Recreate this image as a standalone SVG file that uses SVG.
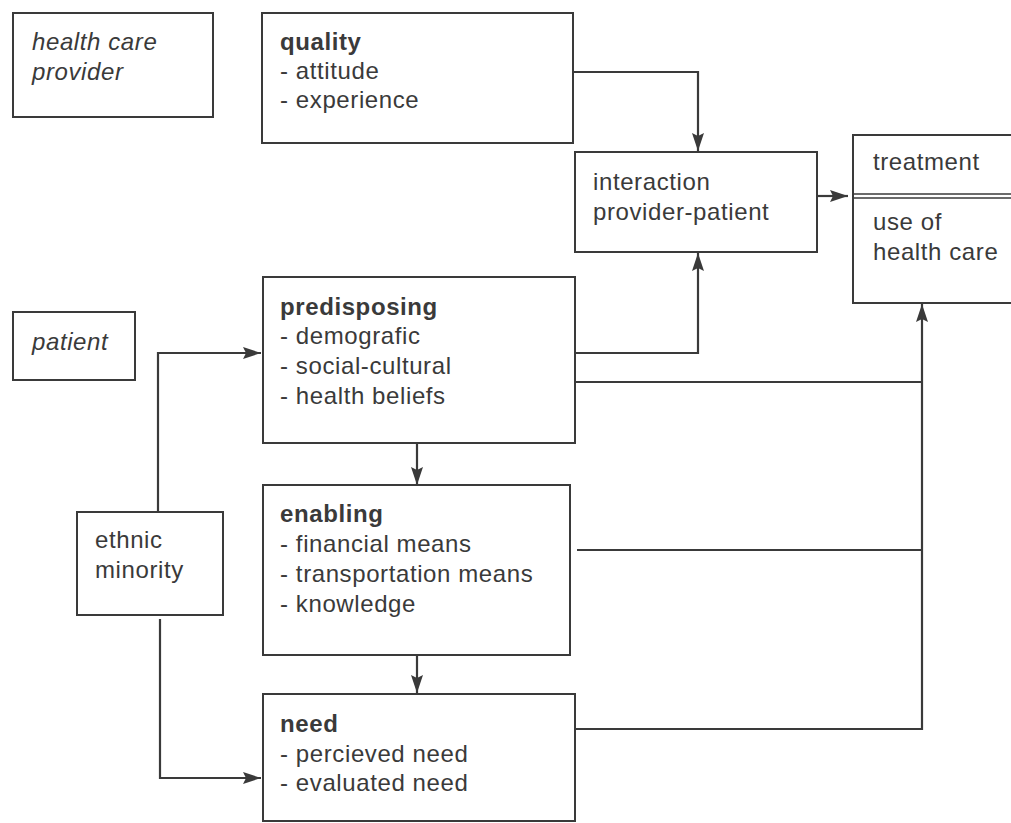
<svg xmlns="http://www.w3.org/2000/svg" width="1011" height="823" viewBox="0 0 1011 823">
<style>
.box{fill:#fff;stroke:#3a3a3a;stroke-width:2}
.t{font-family:"Liberation Sans",Arial,sans-serif;font-size:24px;letter-spacing:0.6px;fill:#3a3a3a}
.b{font-weight:bold}
.i{font-style:italic}
.c{fill:none;stroke:#3a3a3a;stroke-width:2.2}
</style>
<defs>
<marker id="ah" markerUnits="userSpaceOnUse" markerWidth="20" markerHeight="14" refX="18" refY="7" orient="auto">
<path d="M0,1 L18,7 L0,13 L3,7 z" fill="#3a3a3a"/>
</marker>
</defs>
<rect width="1011" height="823" fill="#fff"/>

<g id="connectors">
<path class="c" d="M574,72 H698 V151" marker-end="url(#ah)"/>
<path class="c" d="M817,196 H848" marker-end="url(#ah)"/>
<path class="c" d="M575,353 H698 V253" marker-end="url(#ah)"/>
<path class="c" d="M575,382 H922"/>
<path class="c" d="M577,550 H922"/>
<path class="c" d="M575,729 H922 V304" marker-end="url(#ah)"/>
<path class="c" d="M417,443 V485" marker-end="url(#ah)"/>
<path class="c" d="M417,655 V693" marker-end="url(#ah)"/>
<path class="c" d="M158,512 V353 H261" marker-end="url(#ah)"/>
<path class="c" d="M160,619 V778 H261" marker-end="url(#ah)"/>
</g>

<g id="health-care-provider">
<rect class="box" x="13" y="13" width="200" height="104"/>
<text class="t i" x="32" y="50">health care</text>
<text class="t i" x="32" y="80">provider</text>
</g>

<g id="quality">
<rect class="box" x="262" y="13" width="311" height="130"/>
<text class="t b" x="280" y="50">quality</text>
<text class="t" x="280" y="79">- attitude</text>
<text class="t" x="280" y="108">- experience</text>
</g>

<g id="interaction">
<rect class="box" x="575" y="152" width="242" height="100"/>
<text class="t" x="593" y="190">interaction</text>
<text class="t" x="593" y="220">provider-patient</text>
</g>

<g id="treatment">
<rect class="box" x="853" y="135" width="170" height="168"/>
<line x1="853" y1="194" x2="1011" y2="194" stroke="#3a3a3a" stroke-width="1.6"/>
<line x1="853" y1="198" x2="1011" y2="198" stroke="#3a3a3a" stroke-width="1.6"/>
<text class="t" x="873" y="170">treatment</text>
<text class="t" x="873" y="230">use of</text>
<text class="t" x="873" y="260">health care</text>
</g>

<g id="patient">
<rect class="box" x="13" y="312" width="122" height="68"/>
<text class="t i" x="32" y="350">patient</text>
</g>

<g id="predisposing">
<rect class="box" x="263" y="277" width="312" height="166"/>
<text class="t b" x="280" y="315">predisposing</text>
<text class="t" x="280" y="344">- demografic</text>
<text class="t" x="280" y="374">- social-cultural</text>
<text class="t" x="280" y="404">- health beliefs</text>
</g>

<g id="ethnic-minority">
<rect class="box" x="77" y="512" width="146" height="103"/>
<text class="t" x="95" y="548">ethnic</text>
<text class="t" x="95" y="578">minority</text>
</g>

<g id="enabling">
<rect class="box" x="263" y="485" width="307" height="170"/>
<text class="t b" x="280" y="522">enabling</text>
<text class="t" x="280" y="552">- financial means</text>
<text class="t" x="280" y="582">- transportation means</text>
<text class="t" x="280" y="612">- knowledge</text>
</g>

<g id="need">
<rect class="box" x="263" y="694" width="312" height="127"/>
<text class="t b" x="280" y="732">need</text>
<text class="t" x="280" y="762">- percieved need</text>
<text class="t" x="280" y="791">- evaluated need</text>
</g>
</svg>
